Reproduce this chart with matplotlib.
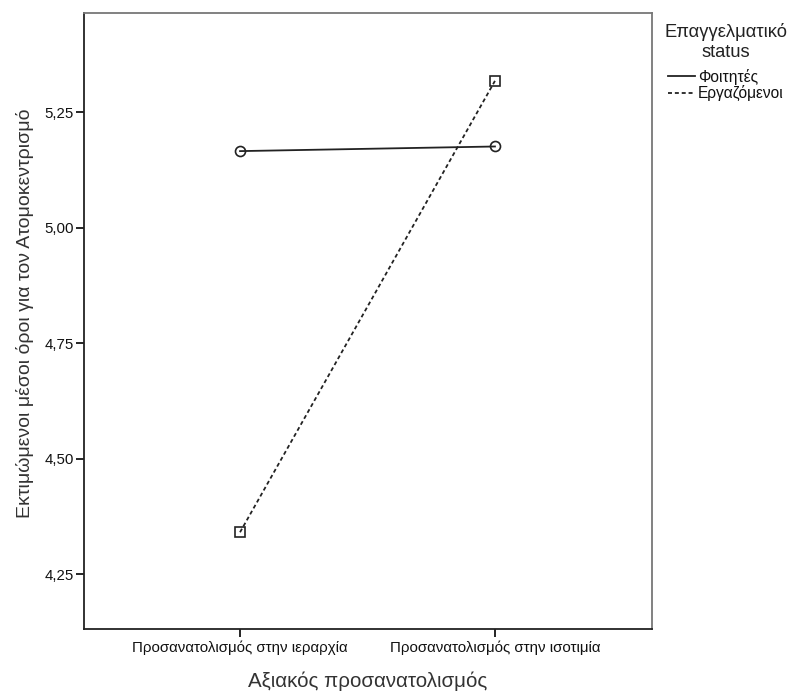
import matplotlib
matplotlib.use("Agg")
import matplotlib.pyplot as plt
from matplotlib.lines import Line2D
from matplotlib.ticker import FixedLocator, FuncFormatter

plt.rcParams['font.family'] = ['Liberation Sans', 'DejaVu Sans']

categories = ["Προσανατολισμός στην ιεραρχία", "Προσανατολισμός στην ισοτιμία"]
series_names = ["Φοιτητές", "Εργαζόμενοι"]
students = [5.166, 5.176]
employed = [4.341, 5.318]
yticks = [4.25, 4.50, 4.75, 5.00, 5.25]

fig = plt.figure(figsize=(7.88, 6.91), dpi=100)
ax = fig.add_axes([84/788, 62/691, 568/788, 616.3/691])

x = list(range(len(categories)))
l1, = ax.plot(x, students, color='#222222', lw=1.3, linestyle='-',
              marker='o', markersize=7.2, markerfacecolor='none',
              markeredgecolor='#222222', markeredgewidth=1.2)
l2, = ax.plot(x, employed, color='#222222', lw=1.3, linestyle=(0, (2.2, 1.6)),
              marker='s', markersize=7.2, markerfacecolor='none',
              markeredgecolor='#222222', markeredgewidth=1.2)

ax.set_xlim(-0.612, 1.616)
ax.set_ylim(4.1316, 5.4656)
ax.set_xticks(x)
ax.set_xticklabels(categories, fontsize=10.8, color='#111111')
ax.yaxis.set_major_locator(FixedLocator(yticks))
ax.yaxis.set_major_formatter(FuncFormatter(lambda v, p: f"{v:.2f}".replace('.', ',')))
ax.tick_params(axis='y', labelsize=10.8, length=6, width=1.2, direction='out',
               pad=1.5, labelcolor='#111111')
ax.tick_params(axis='x', length=6, width=1.2, direction='out', pad=2)
for s in ax.spines.values():
    s.set_linewidth(1.3)
    s.set_color('#222222')
ax.spines['top'].set_color('#777777')
ax.spines['right'].set_color('#777777')

ax.set_xlabel("Αξιακός προσανατολισμός", fontsize=14.8, color='#333333', labelpad=12)
ax.set_ylabel("Εκτιμώμενοι μέσοι όροι για τον Ατομοκεντρισμό", fontsize=14,
              color='#333333')
ax.yaxis.set_label_coords(-0.088, 0.512)

handles = [Line2D([], [], color='#222222', lw=1.3, linestyle='-'),
           Line2D([], [], color='#222222', lw=1.3, linestyle=(0, (2.2, 1.6)))]
leg = fig.legend(handles, series_names, title="Επαγγελματικό\nstatus",
                 loc='upper left', bbox_to_anchor=(664/788, 1 - 23/691),
                 frameon=False, fontsize=11.2, title_fontsize=13.2,
                 handlelength=1.74, handletextpad=0.2, labelspacing=0.02,
                 borderpad=0.0, borderaxespad=0)
leg.get_title().set_multialignment('center')
leg._legend_box.sep = 6
for t in leg.get_texts():
    t.set_color('#111111')
leg.get_title().set_color('#222222')

fig.savefig("out.png", dpi=100)
